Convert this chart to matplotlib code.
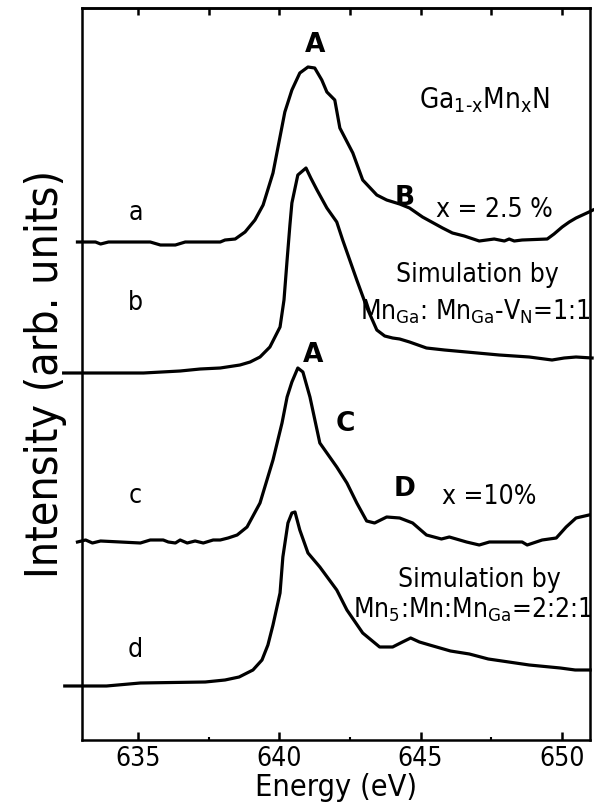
import matplotlib
matplotlib.use("Agg")
import matplotlib.pyplot as plt
import numpy as np

# Ga1-xMnxN, x = 2.5 %  (curve a)
e_a = [632.84, 633.48, 633.66, 633.94, 635.42, 635.78, 636.31, 636.66, 637.90, 638.07,
       638.43, 638.78, 639.13, 639.42, 639.77, 640.19, 640.44, 640.72, 641.01, 641.25,
       641.50, 641.68, 641.96, 642.14, 642.60, 642.95, 643.45, 643.80, 644.26, 644.61,
       645.07, 645.78, 646.13, 646.55, 647.08, 647.61, 647.97, 648.14, 648.32, 648.60,
       649.49, 649.73, 650.02, 650.27, 650.51, 650.97, 651.11]
i_a = [0.00, 0.00, -0.02, 0.00, 0.00, -0.03, -0.03, 0.00, 0.00, 0.02,
       0.03, 0.10, 0.22, 0.37, 0.69, 1.30, 1.52, 1.69, 1.75, 1.74,
       1.62, 1.50, 1.42, 1.14, 0.89, 0.62, 0.47, 0.42, 0.38, 0.34,
       0.25, 0.14, 0.09, 0.06, 0.01, 0.03, 0.01, 0.03, 0.01, 0.02,
       0.03, 0.08, 0.15, 0.20, 0.24, 0.30, 0.32]

# simulation MnGa : MnGa-VN = 1:1  (curve b)
e_b = [632.35, 635.18, 636.48, 637.19, 637.90, 638.60, 638.96, 639.31, 639.66, 640.02,
       640.16, 640.27, 640.37, 640.44, 640.65, 640.94, 641.11, 641.33, 641.68, 642.03,
       642.24, 642.49, 642.74, 643.09, 643.45, 643.73, 644.01, 644.26, 644.61, 645.21,
       645.85, 646.63, 647.79, 648.85, 649.66, 650.09, 650.51, 651.08]
i_b = [0.00, 0.00, 0.02, 0.04, 0.05, 0.08, 0.11, 0.16, 0.26, 0.46,
       0.73, 1.13, 1.48, 1.70, 1.98, 2.05, 1.95, 1.83, 1.65, 1.51,
       1.33, 1.13, 0.93, 0.66, 0.43, 0.37, 0.35, 0.34, 0.31, 0.25,
       0.23, 0.21, 0.18, 0.16, 0.13, 0.15, 0.16, 0.15]

# Ga1-xMnxN, x = 10 %  (curve c)
e_c = [632.84, 633.13, 633.37, 633.66, 635.07, 635.42, 635.88, 636.06, 636.31, 636.48,
       636.73, 637.01, 637.30, 637.65, 637.90, 638.18, 638.50, 638.85, 639.31, 639.77,
       640.09, 640.27, 640.44, 640.65, 640.83, 641.08, 641.43, 641.68, 642.03, 642.39,
       642.74, 643.09, 643.37, 643.80, 644.26, 644.72, 645.21, 645.74, 646.02, 646.63,
       647.08, 647.44, 648.60, 648.78, 649.31, 649.81, 650.16, 650.51, 650.97]
i_c = [0.00, 0.02, -0.01, 0.01, -0.01, 0.02, 0.02, 0.00, -0.01, 0.02,
       -0.01, 0.01, -0.01, 0.02, 0.02, 0.04, 0.07, 0.15, 0.39, 0.82,
       1.19, 1.45, 1.60, 1.74, 1.70, 1.45, 0.99, 0.89, 0.75, 0.59,
       0.39, 0.21, 0.19, 0.25, 0.24, 0.19, 0.07, 0.03, 0.05, 0.00,
       -0.03, 0.00, 0.00, -0.03, 0.02, 0.04, 0.15, 0.24, 0.27]

# simulation Mn5 : Mn : MnGa = 2:2:1  (curve d)
e_d = [632.39, 633.87, 635.07, 637.37, 638.07, 638.57, 639.06, 639.38, 639.59, 639.77,
       640.02, 640.12, 640.30, 640.44, 640.55, 640.72, 641.01, 641.43, 642.03, 642.39,
       642.95, 643.55, 644.01, 644.36, 644.65, 644.96, 645.32, 646.06, 646.73, 647.40,
       648.85, 649.95, 650.48, 651.01]
i_d = [0.00, 0.00, 0.03, 0.04, 0.06, 0.09, 0.16, 0.26, 0.41, 0.61,
       0.93, 1.29, 1.63, 1.73, 1.74, 1.56, 1.33, 1.19, 0.96, 0.76,
       0.53, 0.39, 0.39, 0.44, 0.48, 0.44, 0.41, 0.35, 0.32, 0.27,
       0.21, 0.18, 0.16, 0.16]

offsets = [4.98, 3.67, 1.98, 0.54]
curve_names = ["a", "b", "c", "d"]

plt.rcParams["font.family"] = "DejaVu Sans"
plt.rcParams["font.stretch"] = "condensed"
plt.rcParams["mathtext.default"] = "regular"

fig = plt.figure(figsize=(5.94, 8.09), dpi=100)
ax = fig.add_axes([0.138, 0.0853, 0.855, 0.9048])

for e, i, off in zip([e_a, e_b, e_c, e_d], [i_a, i_b, i_c, i_d], offsets):
    ax.plot(e, np.array(i) + off, color="black", lw=2.3, clip_on=False,
            solid_joinstyle="round")

ax.set_xlim(633, 651)
ax.set_ylim(0, 7.32)
ax.set_yticks([])
ax.set_xticks([635, 640, 645, 650])
ax.set_xticks([637.5, 642.5, 647.5], minor=True)
ax.tick_params(axis="x", which="major", direction="in", length=6, width=1.8,
               labelsize=19, pad=4)
ax.tick_params(axis="x", which="minor", direction="in", length=2.5, width=1.5)
top = ax.secondary_xaxis("top")
top.set_xticks([635, 637.5, 640, 642.5, 645, 647.5, 650])
top.tick_params(direction="in", length=5, width=1.8, labeltop=False)
for s in list(ax.spines.values()) + list(top.spines.values()):
    s.set_linewidth(1.8)

ax.set_xlabel("Energy (eV)", fontsize=22, labelpad=1)
ax.set_ylabel("Intensity (arb. units)", fontsize=32, labelpad=11)

tk = dict(fontsize=19, ha="center", va="center")
bk = dict(fontsize=19, ha="center", va="center", fontweight="bold", fontstretch="normal")
ax.text(641.25, 6.95, "A", **bk)
ax.text(644.43, 5.42, "B", **bk)
ax.text(641.18, 3.85, "A", **bk)
ax.text(642.35, 3.16, "C", **bk)
ax.text(644.43, 2.51, "D", **bk)

ax.text(647.26, 6.40, "Ga$_{1\u2010x}$Mn$_x$N", fontsize=20, ha="center", va="center")
ax.text(647.61, 5.30, "x = 2.5 %", **tk)
ax.text(647.01, 4.65, "Simulation by", **tk)
ax.text(646.95, 4.28, "Mn$_{Ga}$: Mn$_{Ga}$-V$_N$=1:1", **tk)
ax.text(647.44, 2.43, "x =10%", **tk)
ax.text(647.10, 1.60, "Simulation by", **tk)
ax.text(646.85, 1.30, "Mn$_5$:Mn:Mn$_{Ga}$=2:2:1", **tk)

for name, y in zip(curve_names, [5.27, 4.37, 2.44, 0.90]):
    ax.text(634.9, y, name, **tk)

fig.savefig("out.png", dpi=100)
